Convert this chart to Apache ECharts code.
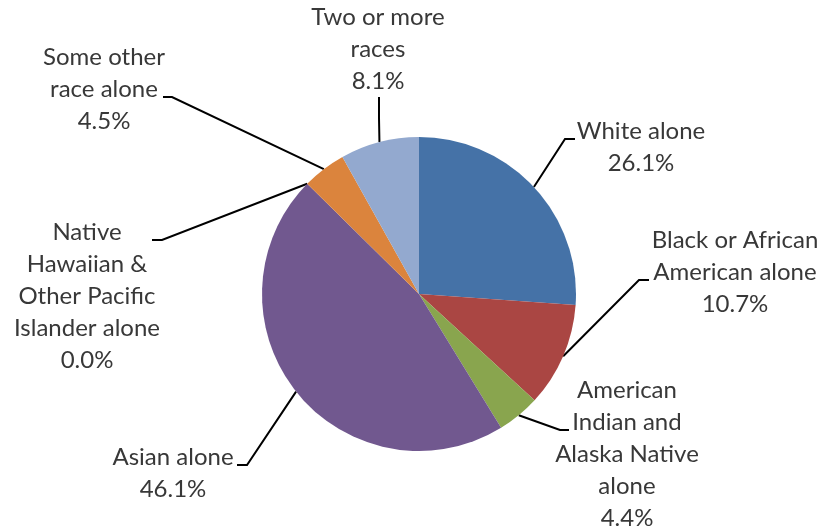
<!DOCTYPE html>
<html>
<head>
<meta charset="utf-8">
<script src="https://cdn.jsdelivr.net/npm/echarts@6/dist/echarts.min.js"></script>
<style>
  html, body { margin: 0; padding: 0; background: #ffffff; }
  #chart { width: 836px; height: 529px; }
</style>
</head>
<body>
<div id="chart"></div>
<script>
// Race categories, clockwise from 12 o'clock
const categories = [
  'White alone',
  'Black or African American alone',
  'American Indian and Alaska Native alone',
  'Asian alone',
  'Native Hawaiian & Other Pacific Islander alone',
  'Some other race alone',
  'Two or more races'
];
// Share of population, percent
const shares = [26.1, 10.7, 4.4, 46.1, 0.0, 4.5, 8.1];
// How each category name wraps in its label
const labelLines = [
  ['White alone'],
  ['Black or African', 'American alone'],
  ['American', 'Indian and', 'Alaska Native', 'alone'],
  ['Asian alone'],
  ['Native', 'Hawaiian &', 'Other Pacific', 'Islander alone'],
  ['Some other', 'race alone'],
  ['Two or more', 'races']
];
const sliceColors = ['#4572A7', '#AA4643', '#89A54E', '#71588F', '#4198AF', '#DB843D', '#93A9CF'];

// Label placement: text block centre x, top y, leader elbow and leader end
const labelPlacement = [
  { x: 641, y: 115, elbow: [565, 139], end: [575, 139] },
  { x: 735, y: 224, elbow: [639, 280], end: [649, 280] },
  { x: 627, y: 374, elbow: [560, 430], end: [569, 430] },
  { x: 173, y: 441, elbow: [247, 465], end: [237, 465] },
  { x: 87,  y: 216, elbow: [162, 240], end: [152, 240] },
  { x: 104, y: 41,  elbow: [172, 97],  end: [163, 97] },
  { x: 378, y: 1,   elbow: [379, 118], end: [379, 97] }
];

const chart = echarts.init(document.getElementById('chart'), null, { renderer: 'canvas' });

const data = categories.map((name, i) => ({
  name: name,
  value: shares[i],
  itemStyle: { color: sliceColors[i] }
}));

chart.setOption({
  animation: false,
  backgroundColor: '#ffffff',
  series: [{
    type: 'pie',
    center: [419, 294],
    radius: [0, 157],
    startAngle: 90,
    clockwise: true,
    avoidLabelOverlap: false,
    itemStyle: { borderWidth: 0 },
    emphasis: { disabled: true },
    label: {
      show: true,
      position: 'outside',
      fontFamily: 'Lato',
      fontSize: 24,
      lineHeight: 32,
      color: '#383838',
      align: 'center',
      formatter: p => labelLines[p.dataIndex].join('\n') + '\n' + p.value.toFixed(1) + '%'
    },
    labelLine: {
      show: true,
      length: 10,
      length2: 10,
      lineStyle: { color: '#000000', width: 2 }
    },
    labelLayout: params => {
      const lp = labelPlacement[params.dataIndex];
      const start = params.labelLinePoints ? params.labelLinePoints[0] : lp.elbow;
      return {
        x: lp.x,
        y: lp.y,
        align: 'center',
        verticalAlign: 'top',
        labelLinePoints: [start, lp.elbow, lp.end]
      };
    },
    data: data
  }]
});
</script>
</body>
</html>
